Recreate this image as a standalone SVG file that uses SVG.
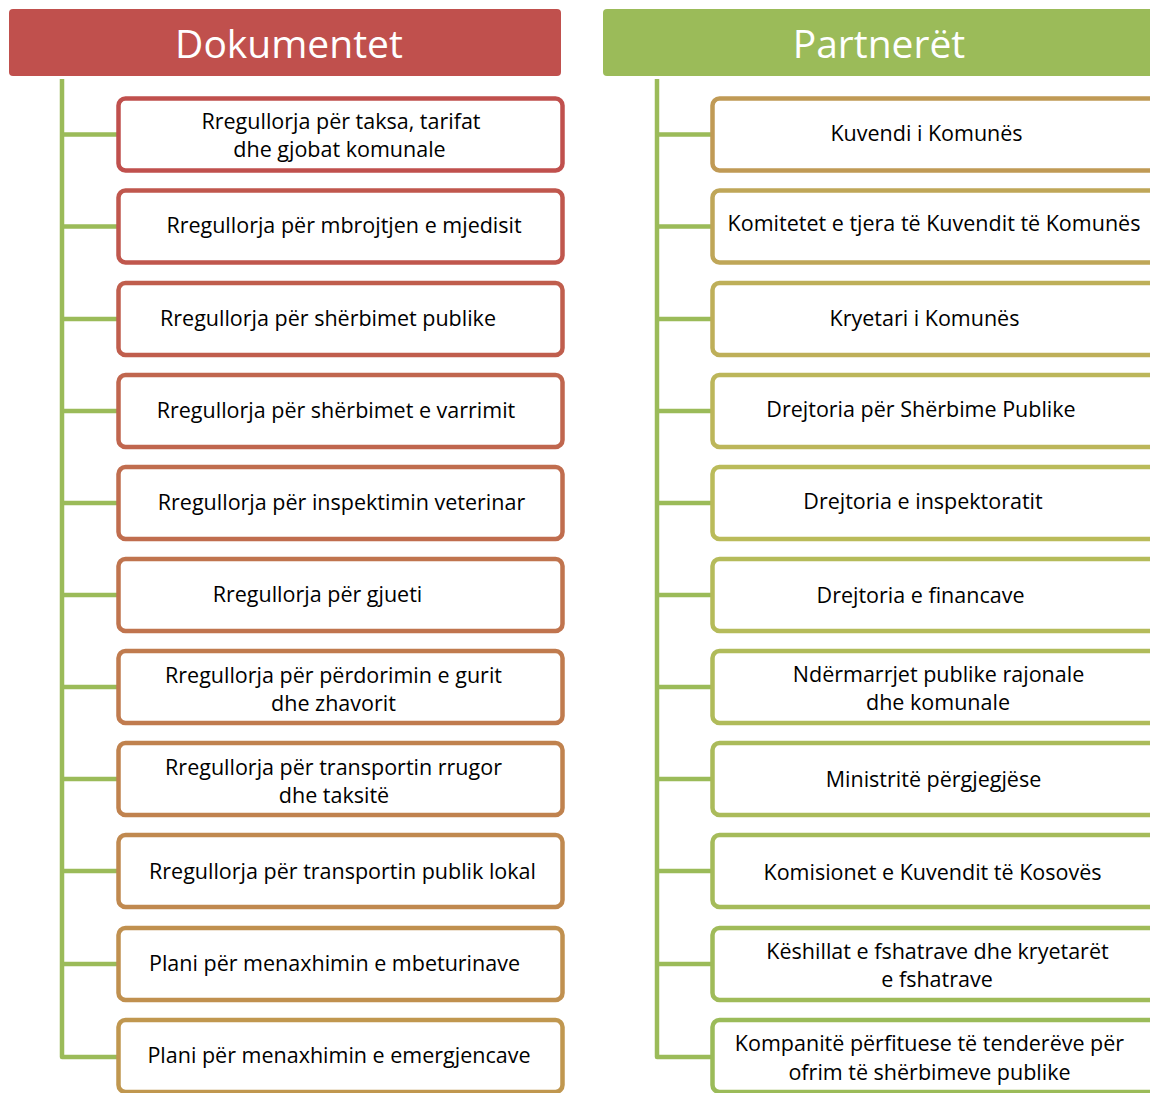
<svg xmlns="http://www.w3.org/2000/svg" width="1150" height="1093" viewBox="0 0 1150 1093">
  <style>
    .hdr { stroke: none; }
    .hdr-text { font-family: "Open Sans", "Liberation Sans", sans-serif; font-size: 39px; fill: #ffffff; text-anchor: middle; }
    .box { fill: #ffffff; stroke-width: 4.5; }
    .label { font-family: "Open Sans", "Liberation Sans", sans-serif; font-size: 21.5px; fill: #000000; text-anchor: middle; }
    .conn { stroke: #9BBB59; stroke-width: 4.5; fill: none; stroke-linejoin: round; }
  </style>
  <rect width="1150" height="1093" fill="#ffffff"/>

  <!-- column headers -->
  <g id="hdr-dokumentet">
    <rect class="hdr" x="9" y="9" width="552" height="67" rx="4" fill="#C0504D"/>
    <text class="hdr-text" x="289" y="58">Dokumentet</text>
  </g>
  <g id="hdr-partneret">
    <rect class="hdr" x="603" y="9" width="560" height="67" rx="4" fill="#9BBB59"/>
    <text class="hdr-text" x="879" y="58">Partnerët</text>
  </g>

  <!-- tree connectors -->
  <g id="connectors">
    <path class="conn" d="M62 79 V1057 H117"/>
    <path class="conn" d="M62 134.5 H117 M62 226.5 H117 M62 319 H117 M62 411 H117 M62 503 H117 M62 595 H117 M62 687 H117 M62 779 H117 M62 871 H117 M62 964 H117"/>
    <path class="conn" d="M657 79 V1057 H711"/>
    <path class="conn" d="M657 134.5 H711 M657 226.5 H711 M657 319 H711 M657 411 H711 M657 503 H711 M657 595 H711 M657 687 H711 M657 779 H711 M657 871 H711 M657 964 H711"/>
  </g>

  <!-- documents -->
  <g id="doc-1"><rect class="box" x="118.5" y="98.5" width="444" height="72" rx="7" stroke="#C0504D"/>
    <text class="label" x="341" y="129">Rregullorja për taksa, tarifat</text>
    <text class="label" x="339.5" y="157">dhe gjobat komunale</text></g>
  <g id="doc-2"><rect class="box" x="118.5" y="190.5" width="444" height="72" rx="7" stroke="#C0574D"/>
    <text class="label" x="344" y="233">Rregullorja për mbrojtjen e mjedisit</text></g>
  <g id="doc-3"><rect class="box" x="118.5" y="283" width="444" height="72" rx="7" stroke="#C05E4D"/>
    <text class="label" x="328" y="326">Rregullorja për shërbimet publike</text></g>
  <g id="doc-4"><rect class="box" x="118.5" y="375" width="444" height="72" rx="7" stroke="#C0664E"/>
    <text class="label" x="336" y="418">Rregullorja për shërbimet e varrimit</text></g>
  <g id="doc-5"><rect class="box" x="118.5" y="467" width="444" height="72" rx="7" stroke="#C06D4E"/>
    <text class="label" x="341.5" y="510">Rregullorja për inspektimin veterinar</text></g>
  <g id="doc-6"><rect class="box" x="118.5" y="559" width="444" height="72" rx="7" stroke="#C0744E"/>
    <text class="label" x="317.5" y="602">Rregullorja për gjueti</text></g>
  <g id="doc-7"><rect class="box" x="118.5" y="651" width="444" height="72" rx="7" stroke="#C07B4E"/>
    <text class="label" x="333.5" y="683">Rregullorja për përdorimin e gurit</text>
    <text class="label" x="333.5" y="711">dhe zhavorit</text></g>
  <g id="doc-8"><rect class="box" x="118.5" y="743" width="444" height="72" rx="7" stroke="#C0824E"/>
    <text class="label" x="333.5" y="775">Rregullorja për transportin rrugor</text>
    <text class="label" x="334" y="803">dhe taksitë</text></g>
  <g id="doc-9"><rect class="box" x="118.5" y="835" width="444" height="72" rx="7" stroke="#C0894F"/>
    <text class="label" x="342.5" y="879">Rregullorja për transportin publik lokal</text></g>
  <g id="doc-10"><rect class="box" x="118.5" y="928" width="444" height="72" rx="7" stroke="#C0904F"/>
    <text class="label" x="334.5" y="971">Plani për menaxhimin e mbeturinave</text></g>
  <g id="doc-11"><rect class="box" x="118.5" y="1020" width="444" height="72" rx="7" stroke="#C0974F"/>
    <text class="label" x="339" y="1063">Plani për menaxhimin e emergjencave</text></g>

  <!-- partners -->
  <g id="partner-1"><rect class="box" x="712.5" y="98.5" width="460" height="72" rx="7" stroke="#C09A55"/>
    <text class="label" x="926.5" y="141">Kuvendi i Komunës</text></g>
  <g id="partner-2"><rect class="box" x="712.5" y="190.5" width="460" height="72" rx="7" stroke="#BFA658"/>
    <text class="label" x="934" y="231">Komitetet e tjera të Kuvendit të Komunës</text></g>
  <g id="partner-3"><rect class="box" x="712.5" y="283" width="460" height="72" rx="7" stroke="#BEAF59"/>
    <text class="label" x="924.5" y="326">Kryetari i Komunës</text></g>
  <g id="partner-4"><rect class="box" x="712.5" y="375" width="460" height="72" rx="7" stroke="#BCB65A"/>
    <text class="label" x="921" y="417">Drejtoria për Shërbime Publike</text></g>
  <g id="partner-5"><rect class="box" x="712.5" y="467" width="460" height="72" rx="7" stroke="#BABB5A"/>
    <text class="label" x="923" y="509">Drejtoria e inspektoratit</text></g>
  <g id="partner-6"><rect class="box" x="712.5" y="559" width="460" height="72" rx="7" stroke="#B5BB5A"/>
    <text class="label" x="920.5" y="603">Drejtoria e financave</text></g>
  <g id="partner-7"><rect class="box" x="712.5" y="651" width="460" height="72" rx="7" stroke="#B0BB5A"/>
    <text class="label" x="938.5" y="682">Ndërmarrjet publike rajonale</text>
    <text class="label" x="938" y="710">dhe komunale</text></g>
  <g id="partner-8"><rect class="box" x="712.5" y="743" width="460" height="72" rx="7" stroke="#ABBB5A"/>
    <text class="label" x="933.5" y="787">Ministritë përgjegjëse</text></g>
  <g id="partner-9"><rect class="box" x="712.5" y="835" width="460" height="72" rx="7" stroke="#A5BB5A"/>
    <text class="label" x="932.5" y="880">Komisionet e Kuvendit të Kosovës</text></g>
  <g id="partner-10"><rect class="box" x="712.5" y="928" width="460" height="72" rx="7" stroke="#A0BB59"/>
    <text class="label" x="937.5" y="959">Këshillat e fshatrave dhe kryetarët</text>
    <text class="label" x="937" y="987">e fshatrave</text></g>
  <g id="partner-11"><rect class="box" x="712.5" y="1020" width="460" height="72" rx="7" stroke="#9BBB59"/>
    <text class="label" x="929.5" y="1051">Kompanitë përfituese të tenderëve për</text>
    <text class="label" x="929.5" y="1080">ofrim të shërbimeve publike</text></g>
</svg>
